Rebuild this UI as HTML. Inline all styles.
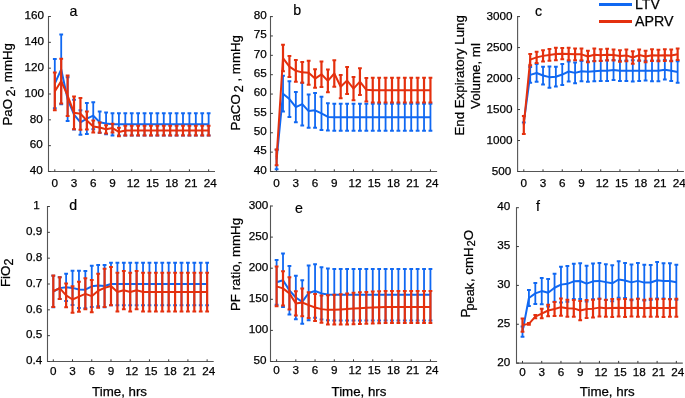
<!DOCTYPE html>
<html><head><meta charset="utf-8"><style>
html,body{margin:0;padding:0;background:#fff;}
svg{display:block;will-change:transform;}
text{font-family:"Liberation Sans", sans-serif;fill:#000;stroke:#000;stroke-width:0.25px;}
.t{font-size:11.7px;}
.T{font-size:13.3px;}
.L{font-size:14.2px;stroke-width:0.2px;}
.G{font-size:14.2px;}
</style></head><body>
<svg width="685" height="398" viewBox="0 0 685 398">
<path d="M48.5 16V171.5H215" fill="none" stroke="#555555" stroke-width="1.1"/>
<path d="M48.5 171.5h2.4M48.5 145.67h2.4M48.5 119.83h2.4M48.5 94h2.4M48.5 68.17h2.4M48.5 42.33h2.4M48.5 16.5h2.4M54.8 171.5v-2.2M74.03 171.5v-2.2M93.26 171.5v-2.2M112.49 171.5v-2.2M131.72 171.5v-2.2M150.95 171.5v-2.2M170.18 171.5v-2.2M189.41 171.5v-2.2M208.64 171.5v-2.2" stroke="#3a3a3a" stroke-width="1" fill="none"/>
<text x="42.7" y="174.2" text-anchor="end" class="t">40</text>
<text x="42.7" y="148.37" text-anchor="end" class="t">60</text>
<text x="42.7" y="122.53" text-anchor="end" class="t">80</text>
<text x="44" y="96.7" text-anchor="end" class="t">100</text>
<text x="44" y="70.87" text-anchor="end" class="t">120</text>
<text x="44" y="45.03" text-anchor="end" class="t">140</text>
<text x="44" y="19.2" text-anchor="end" class="t">160</text>
<text x="54.8" y="187.2" text-anchor="middle" class="t">0</text>
<text x="74.03" y="187.2" text-anchor="middle" class="t">3</text>
<text x="93.26" y="187.2" text-anchor="middle" class="t">6</text>
<text x="112.49" y="187.2" text-anchor="middle" class="t">9</text>
<text x="133.22" y="187.2" text-anchor="middle" class="t">12</text>
<text x="152.45" y="187.2" text-anchor="middle" class="t">15</text>
<text x="171.68" y="187.2" text-anchor="middle" class="t">18</text>
<text x="190.91" y="187.2" text-anchor="middle" class="t">21</text>
<text x="210.14" y="187.2" text-anchor="middle" class="t">24</text>
<text x="69.5" y="15.5" class="L">a</text>
<path d="M54.8 59.12V108.21M61.21 34.58V104.33M67.62 77.21V121.12M74.03 99.81V129.52M80.44 110.15V134.69M86.85 103.04V134.04M93.26 102.14V129.26M99.67 111.57V132.75M106.08 112.6V134.3M112.49 113.25V135.46M118.9 113.25V135.46M125.31 113.25V135.46M131.72 113.25V135.46M138.13 113.25V135.46M144.54 113.25V135.46M150.95 113.25V135.46M157.36 113.25V135.46M163.77 113.25V135.46M170.18 113.25V135.46M176.59 113.25V135.46M183 113.25V135.46M189.41 113.25V135.46M195.82 113.25V135.46M202.23 113.25V135.46M208.64 113.25V135.46" stroke="#1068f2" stroke-width="1.8" fill="none"/>
<path d="M52.9 58.12h3.8v2h-3.8zM52.9 107.21h3.8v2h-3.8zM59.31 33.58h3.8v2h-3.8zM59.31 103.33h3.8v2h-3.8zM65.72 76.21h3.8v2h-3.8zM65.72 120.12h3.8v2h-3.8zM72.13 98.81h3.8v2h-3.8zM72.13 128.52h3.8v2h-3.8zM78.54 109.15h3.8v2h-3.8zM78.54 133.69h3.8v2h-3.8zM84.95 102.04h3.8v2h-3.8zM84.95 133.04h3.8v2h-3.8zM91.36 101.14h3.8v2h-3.8zM91.36 128.26h3.8v2h-3.8zM97.77 110.57h3.8v2h-3.8zM97.77 131.75h3.8v2h-3.8zM104.18 111.6h3.8v2h-3.8zM104.18 133.3h3.8v2h-3.8zM110.59 112.25h3.8v2h-3.8zM110.59 134.46h3.8v2h-3.8zM117 112.25h3.8v2h-3.8zM117 134.46h3.8v2h-3.8zM123.41 112.25h3.8v2h-3.8zM123.41 134.46h3.8v2h-3.8zM129.82 112.25h3.8v2h-3.8zM129.82 134.46h3.8v2h-3.8zM136.23 112.25h3.8v2h-3.8zM136.23 134.46h3.8v2h-3.8zM142.64 112.25h3.8v2h-3.8zM142.64 134.46h3.8v2h-3.8zM149.05 112.25h3.8v2h-3.8zM149.05 134.46h3.8v2h-3.8zM155.46 112.25h3.8v2h-3.8zM155.46 134.46h3.8v2h-3.8zM161.87 112.25h3.8v2h-3.8zM161.87 134.46h3.8v2h-3.8zM168.28 112.25h3.8v2h-3.8zM168.28 134.46h3.8v2h-3.8zM174.69 112.25h3.8v2h-3.8zM174.69 134.46h3.8v2h-3.8zM181.1 112.25h3.8v2h-3.8zM181.1 134.46h3.8v2h-3.8zM187.51 112.25h3.8v2h-3.8zM187.51 134.46h3.8v2h-3.8zM193.92 112.25h3.8v2h-3.8zM193.92 134.46h3.8v2h-3.8zM200.33 112.25h3.8v2h-3.8zM200.33 134.46h3.8v2h-3.8zM206.74 112.25h3.8v2h-3.8zM206.74 134.46h3.8v2h-3.8z" fill="#1068f2"/>
<polyline points="54.8,83.67 61.21,69.46 67.62,99.17 74.03,114.67 80.44,122.42 86.85,118.54 93.26,115.7 99.67,122.16 106.08,123.45 112.49,124.35 118.9,124.35 125.31,124.35 131.72,124.35 138.13,124.35 144.54,124.35 150.95,124.35 157.36,124.35 163.77,124.35 170.18,124.35 176.59,124.35 183,124.35 189.41,124.35 195.82,124.35 202.23,124.35 208.64,124.35" fill="none" stroke="#1068f2" stroke-width="2" stroke-linejoin="round"/>
<path d="M54.8 72.56V110.27M61.21 58.74V103.43M67.62 75.4V115.96M74.03 96.45V129.26M80.44 97.88V129.65M86.85 111.44V129.52M93.26 120.61V132.49M99.67 122.42V132.75M106.08 125.13V133.4M112.49 123.71V132.49M118.9 127.71V136.24M125.31 125.65V135.46M131.72 125.65V135.46M138.13 125.65V135.46M144.54 125.65V135.46M150.95 125.65V135.46M157.36 125.65V135.46M163.77 125.65V135.46M170.18 125.65V135.46M176.59 125.65V135.46M183 125.65V135.46M189.41 125.65V135.46M195.82 125.65V135.46M202.23 125.65V135.46M208.64 125.65V135.46" stroke="#e4300e" stroke-width="2.2" fill="none"/>
<path d="M52.9 71.56h3.8v2h-3.8zM52.9 109.27h3.8v2h-3.8zM59.31 57.74h3.8v2h-3.8zM59.31 102.43h3.8v2h-3.8zM65.72 74.4h3.8v2h-3.8zM65.72 114.96h3.8v2h-3.8zM72.13 95.45h3.8v2h-3.8zM72.13 128.26h3.8v2h-3.8zM78.54 96.88h3.8v2h-3.8zM78.54 128.65h3.8v2h-3.8zM84.95 110.44h3.8v2h-3.8zM84.95 128.52h3.8v2h-3.8zM91.36 119.61h3.8v2h-3.8zM91.36 131.49h3.8v2h-3.8zM97.77 121.42h3.8v2h-3.8zM97.77 131.75h3.8v2h-3.8zM104.18 124.13h3.8v2h-3.8zM104.18 132.4h3.8v2h-3.8zM110.59 122.71h3.8v2h-3.8zM110.59 131.49h3.8v2h-3.8zM117 126.71h3.8v2h-3.8zM117 135.24h3.8v2h-3.8zM123.41 124.65h3.8v2h-3.8zM123.41 134.46h3.8v2h-3.8zM129.82 124.65h3.8v2h-3.8zM129.82 134.46h3.8v2h-3.8zM136.23 124.65h3.8v2h-3.8zM136.23 134.46h3.8v2h-3.8zM142.64 124.65h3.8v2h-3.8zM142.64 134.46h3.8v2h-3.8zM149.05 124.65h3.8v2h-3.8zM149.05 134.46h3.8v2h-3.8zM155.46 124.65h3.8v2h-3.8zM155.46 134.46h3.8v2h-3.8zM161.87 124.65h3.8v2h-3.8zM161.87 134.46h3.8v2h-3.8zM168.28 124.65h3.8v2h-3.8zM168.28 134.46h3.8v2h-3.8zM174.69 124.65h3.8v2h-3.8zM174.69 134.46h3.8v2h-3.8zM181.1 124.65h3.8v2h-3.8zM181.1 134.46h3.8v2h-3.8zM187.51 124.65h3.8v2h-3.8zM187.51 134.46h3.8v2h-3.8zM193.92 124.65h3.8v2h-3.8zM193.92 134.46h3.8v2h-3.8zM200.33 124.65h3.8v2h-3.8zM200.33 134.46h3.8v2h-3.8zM206.74 124.65h3.8v2h-3.8zM206.74 134.46h3.8v2h-3.8z" fill="#e4300e"/>
<polyline points="54.8,91.42 61.21,81.08 67.62,95.68 74.03,112.86 80.44,113.76 86.85,120.48 93.26,126.55 99.67,127.58 106.08,129.26 112.49,128.1 118.9,131.98 125.31,130.55 131.72,130.55 138.13,130.55 144.54,130.55 150.95,130.55 157.36,130.55 163.77,130.55 170.18,130.55 176.59,130.55 183,130.55 189.41,130.55 195.82,130.55 202.23,130.55 208.64,130.55" fill="none" stroke="#e4300e" stroke-width="2" stroke-linejoin="round"/>
<path d="M270.5 16.1V171.5H437.1" fill="none" stroke="#555555" stroke-width="1.1"/>
<path d="M270.5 171.5h2.4M270.5 152.14h2.4M270.5 132.78h2.4M270.5 113.41h2.4M270.5 94.05h2.4M270.5 74.69h2.4M270.5 55.33h2.4M270.5 35.96h2.4M270.5 16.6h2.4M276.6 171.5v-2.2M295.83 171.5v-2.2M315.06 171.5v-2.2M334.29 171.5v-2.2M353.52 171.5v-2.2M372.75 171.5v-2.2M391.98 171.5v-2.2M411.21 171.5v-2.2M430.44 171.5v-2.2" stroke="#3a3a3a" stroke-width="1" fill="none"/>
<text x="266.8" y="173.8" text-anchor="end" class="t">40</text>
<text x="266.8" y="154.44" text-anchor="end" class="t">45</text>
<text x="266.8" y="135.08" text-anchor="end" class="t">50</text>
<text x="266.8" y="115.71" text-anchor="end" class="t">55</text>
<text x="266.8" y="96.35" text-anchor="end" class="t">60</text>
<text x="266.8" y="76.99" text-anchor="end" class="t">65</text>
<text x="266.8" y="57.62" text-anchor="end" class="t">70</text>
<text x="266.8" y="38.26" text-anchor="end" class="t">75</text>
<text x="266.8" y="18.9" text-anchor="end" class="t">80</text>
<text x="276.6" y="186.6" text-anchor="middle" class="t">0</text>
<text x="295.83" y="186.6" text-anchor="middle" class="t">3</text>
<text x="315.06" y="186.6" text-anchor="middle" class="t">6</text>
<text x="334.29" y="186.6" text-anchor="middle" class="t">9</text>
<text x="355.02" y="186.6" text-anchor="middle" class="t">12</text>
<text x="374.25" y="186.6" text-anchor="middle" class="t">15</text>
<text x="393.48" y="186.6" text-anchor="middle" class="t">18</text>
<text x="412.71" y="186.6" text-anchor="middle" class="t">21</text>
<text x="431.94" y="186.6" text-anchor="middle" class="t">24</text>
<text x="293.3" y="14.8" class="L">b</text>
<path d="M276.6 149.81V169.18M283.01 75.85V111.48M289.42 81.27V116.9M295.83 92.11V122.32M302.24 82.82V125.42M308.65 94.44V127.74M315.06 92.89V127.74M321.47 96.76V130.06M327.88 103.34V130.45M334.29 103.73V130.84M340.7 103.73V130.84M347.11 103.73V130.84M353.52 103.73V130.84M359.93 103.73V130.84M366.34 103.73V130.84M372.75 103.73V130.84M379.16 103.73V130.84M385.57 103.73V130.84M391.98 103.73V130.84M398.39 103.73V130.84M404.8 103.73V130.84M411.21 103.73V130.84M417.62 103.73V130.84M424.03 103.73V130.84M430.44 103.73V130.84" stroke="#1068f2" stroke-width="1.8" fill="none"/>
<path d="M274.7 148.81h3.8v2h-3.8zM274.7 168.18h3.8v2h-3.8zM281.11 74.85h3.8v2h-3.8zM281.11 110.48h3.8v2h-3.8zM287.52 80.27h3.8v2h-3.8zM287.52 115.9h3.8v2h-3.8zM293.93 91.11h3.8v2h-3.8zM293.93 121.32h3.8v2h-3.8zM300.34 81.82h3.8v2h-3.8zM300.34 124.42h3.8v2h-3.8zM306.75 93.44h3.8v2h-3.8zM306.75 126.74h3.8v2h-3.8zM313.16 91.89h3.8v2h-3.8zM313.16 126.74h3.8v2h-3.8zM319.57 95.76h3.8v2h-3.8zM319.57 129.06h3.8v2h-3.8zM325.98 102.34h3.8v2h-3.8zM325.98 129.45h3.8v2h-3.8zM332.39 102.73h3.8v2h-3.8zM332.39 129.84h3.8v2h-3.8zM338.8 102.73h3.8v2h-3.8zM338.8 129.84h3.8v2h-3.8zM345.21 102.73h3.8v2h-3.8zM345.21 129.84h3.8v2h-3.8zM351.62 102.73h3.8v2h-3.8zM351.62 129.84h3.8v2h-3.8zM358.03 102.73h3.8v2h-3.8zM358.03 129.84h3.8v2h-3.8zM364.44 102.73h3.8v2h-3.8zM364.44 129.84h3.8v2h-3.8zM370.85 102.73h3.8v2h-3.8zM370.85 129.84h3.8v2h-3.8zM377.26 102.73h3.8v2h-3.8zM377.26 129.84h3.8v2h-3.8zM383.67 102.73h3.8v2h-3.8zM383.67 129.84h3.8v2h-3.8zM390.08 102.73h3.8v2h-3.8zM390.08 129.84h3.8v2h-3.8zM396.49 102.73h3.8v2h-3.8zM396.49 129.84h3.8v2h-3.8zM402.9 102.73h3.8v2h-3.8zM402.9 129.84h3.8v2h-3.8zM409.31 102.73h3.8v2h-3.8zM409.31 129.84h3.8v2h-3.8zM415.72 102.73h3.8v2h-3.8zM415.72 129.84h3.8v2h-3.8zM422.13 102.73h3.8v2h-3.8zM422.13 129.84h3.8v2h-3.8zM428.54 102.73h3.8v2h-3.8zM428.54 129.84h3.8v2h-3.8z" fill="#1068f2"/>
<polyline points="276.6,159.5 283.01,93.66 289.42,99.08 295.83,107.22 302.24,104.12 308.65,111.09 315.06,110.31 321.47,113.41 327.88,116.9 334.29,117.28 340.7,117.28 347.11,117.28 353.52,117.28 359.93,117.28 366.34,117.28 372.75,117.28 379.16,117.28 385.57,117.28 391.98,117.28 398.39,117.28 404.8,117.28 411.21,117.28 417.62,117.28 424.03,117.28 430.44,117.28" fill="none" stroke="#1068f2" stroke-width="2" stroke-linejoin="round"/>
<path d="M276.6 149.43V165.3M283.01 44.87V71.2M289.42 56.1V77.01M295.83 59.97V81.66M302.24 61.91V82.82M308.65 60.75V84.76M315.06 69.27V87.85M321.47 61.52V87.08M327.88 69.46V92.31M334.29 60.36V86.69M340.7 75.07V98.31M347.11 66.94V94.05M353.52 77.01V100.25M359.93 68.3V95.02M366.34 77.98V101.6M372.75 77.79V102.57M379.16 77.79V102.57M385.57 77.79V102.57M391.98 77.79V102.57M398.39 77.79V102.57M404.8 77.79V102.57M411.21 77.79V102.57M417.62 77.79V102.57M424.03 77.79V102.57M430.44 77.79V102.57" stroke="#e4300e" stroke-width="2.2" fill="none"/>
<path d="M274.7 148.43h3.8v2h-3.8zM274.7 164.3h3.8v2h-3.8zM281.11 43.87h3.8v2h-3.8zM281.11 70.2h3.8v2h-3.8zM287.52 55.1h3.8v2h-3.8zM287.52 76.01h3.8v2h-3.8zM293.93 58.97h3.8v2h-3.8zM293.93 80.66h3.8v2h-3.8zM300.34 60.91h3.8v2h-3.8zM300.34 81.82h3.8v2h-3.8zM306.75 59.75h3.8v2h-3.8zM306.75 83.76h3.8v2h-3.8zM313.16 68.27h3.8v2h-3.8zM313.16 86.85h3.8v2h-3.8zM319.57 60.52h3.8v2h-3.8zM319.57 86.08h3.8v2h-3.8zM325.98 68.46h3.8v2h-3.8zM325.98 91.31h3.8v2h-3.8zM332.39 59.36h3.8v2h-3.8zM332.39 85.69h3.8v2h-3.8zM338.8 74.07h3.8v2h-3.8zM338.8 97.31h3.8v2h-3.8zM345.21 65.94h3.8v2h-3.8zM345.21 93.05h3.8v2h-3.8zM351.62 76.01h3.8v2h-3.8zM351.62 99.25h3.8v2h-3.8zM358.03 67.3h3.8v2h-3.8zM358.03 94.02h3.8v2h-3.8zM364.44 76.98h3.8v2h-3.8zM364.44 100.6h3.8v2h-3.8zM370.85 76.79h3.8v2h-3.8zM370.85 101.57h3.8v2h-3.8zM377.26 76.79h3.8v2h-3.8zM377.26 101.57h3.8v2h-3.8zM383.67 76.79h3.8v2h-3.8zM383.67 101.57h3.8v2h-3.8zM390.08 76.79h3.8v2h-3.8zM390.08 101.57h3.8v2h-3.8zM396.49 76.79h3.8v2h-3.8zM396.49 101.57h3.8v2h-3.8zM402.9 76.79h3.8v2h-3.8zM402.9 101.57h3.8v2h-3.8zM409.31 76.79h3.8v2h-3.8zM409.31 101.57h3.8v2h-3.8zM415.72 76.79h3.8v2h-3.8zM415.72 101.57h3.8v2h-3.8zM422.13 76.79h3.8v2h-3.8zM422.13 101.57h3.8v2h-3.8zM428.54 76.79h3.8v2h-3.8zM428.54 101.57h3.8v2h-3.8z" fill="#e4300e"/>
<polyline points="276.6,157.37 283.01,58.04 289.42,66.56 295.83,70.81 302.24,72.36 308.65,72.75 315.06,78.56 321.47,74.3 327.88,80.88 334.29,73.53 340.7,86.69 347.11,80.5 353.52,88.63 359.93,81.66 366.34,89.79 372.75,90.18 379.16,90.18 385.57,90.18 391.98,90.18 398.39,90.18 404.8,90.18 411.21,90.18 417.62,90.18 424.03,90.18 430.44,90.18" fill="none" stroke="#e4300e" stroke-width="2" stroke-linejoin="round"/>
<path d="M517.6 16.1V171.5H683.9" fill="none" stroke="#555555" stroke-width="1.1"/>
<path d="M517.6 171.5h2.4M517.6 140.52h2.4M517.6 109.54h2.4M517.6 78.56h2.4M517.6 47.58h2.4M517.6 16.6h2.4M523.8 171.5v-2.2M543.03 171.5v-2.2M562.26 171.5v-2.2M581.49 171.5v-2.2M600.72 171.5v-2.2M619.95 171.5v-2.2M639.18 171.5v-2.2M658.41 171.5v-2.2M677.64 171.5v-2.2" stroke="#3a3a3a" stroke-width="1" fill="none"/>
<text x="511.2" y="174.5" text-anchor="end" class="t">500</text>
<text x="512.6" y="143.52" text-anchor="end" class="t">1000</text>
<text x="512.6" y="112.54" text-anchor="end" class="t">1500</text>
<text x="512.6" y="81.56" text-anchor="end" class="t">2000</text>
<text x="512.6" y="50.58" text-anchor="end" class="t">2500</text>
<text x="512.6" y="19.6" text-anchor="end" class="t">3000</text>
<text x="523.8" y="186.6" text-anchor="middle" class="t">0</text>
<text x="543.03" y="186.6" text-anchor="middle" class="t">3</text>
<text x="562.26" y="186.6" text-anchor="middle" class="t">6</text>
<text x="581.49" y="186.6" text-anchor="middle" class="t">9</text>
<text x="602.22" y="186.6" text-anchor="middle" class="t">12</text>
<text x="621.45" y="186.6" text-anchor="middle" class="t">15</text>
<text x="640.68" y="186.6" text-anchor="middle" class="t">18</text>
<text x="659.91" y="186.6" text-anchor="middle" class="t">21</text>
<text x="679.14" y="186.6" text-anchor="middle" class="t">24</text>
<text x="535" y="15.6" class="L">c</text>
<path d="M523.8 122.43V122.43M530.21 66.91V82.77M536.62 64.12V81.84M543.03 66.66V84.38M549.44 66.6V87.67M555.85 66.79V86.61M562.26 64V85.07M568.67 61.58V81.41M575.08 62.51V83.21M581.49 61.09V81.29M587.9 61.58V81.78M594.31 61.09V81.29M600.72 60.72V80.91M607.13 60.34V80.91M613.54 59.91V80.11M619.95 60.72V80.91M626.36 60.53V81.1M632.77 60.22V81.41M639.18 60.53V81.1M645.59 60.72V80.54M652 60.47V81.16M658.41 60.47V81.16M664.82 60.1V79.55M671.23 60.72V80.91M677.64 61.34V82.65" stroke="#1068f2" stroke-width="1.8" fill="none"/>
<path d="M521.9 121.43h3.8v2h-3.8zM521.9 121.43h3.8v2h-3.8zM528.31 65.91h3.8v2h-3.8zM528.31 81.77h3.8v2h-3.8zM534.72 63.12h3.8v2h-3.8zM534.72 80.84h3.8v2h-3.8zM541.13 65.66h3.8v2h-3.8zM541.13 83.38h3.8v2h-3.8zM547.54 65.6h3.8v2h-3.8zM547.54 86.67h3.8v2h-3.8zM553.95 65.79h3.8v2h-3.8zM553.95 85.61h3.8v2h-3.8zM560.36 63h3.8v2h-3.8zM560.36 84.07h3.8v2h-3.8zM566.77 60.58h3.8v2h-3.8zM566.77 80.41h3.8v2h-3.8zM573.18 61.51h3.8v2h-3.8zM573.18 82.21h3.8v2h-3.8zM579.59 60.09h3.8v2h-3.8zM579.59 80.29h3.8v2h-3.8zM586 60.58h3.8v2h-3.8zM586 80.78h3.8v2h-3.8zM592.41 60.09h3.8v2h-3.8zM592.41 80.29h3.8v2h-3.8zM598.82 59.72h3.8v2h-3.8zM598.82 79.91h3.8v2h-3.8zM605.23 59.34h3.8v2h-3.8zM605.23 79.91h3.8v2h-3.8zM611.64 58.91h3.8v2h-3.8zM611.64 79.11h3.8v2h-3.8zM618.05 59.72h3.8v2h-3.8zM618.05 79.91h3.8v2h-3.8zM624.46 59.53h3.8v2h-3.8zM624.46 80.1h3.8v2h-3.8zM630.87 59.22h3.8v2h-3.8zM630.87 80.41h3.8v2h-3.8zM637.28 59.53h3.8v2h-3.8zM637.28 80.1h3.8v2h-3.8zM643.69 59.72h3.8v2h-3.8zM643.69 79.54h3.8v2h-3.8zM650.1 59.47h3.8v2h-3.8zM650.1 80.16h3.8v2h-3.8zM656.51 59.47h3.8v2h-3.8zM656.51 80.16h3.8v2h-3.8zM662.92 59.1h3.8v2h-3.8zM662.92 78.55h3.8v2h-3.8zM669.33 59.72h3.8v2h-3.8zM669.33 79.91h3.8v2h-3.8zM675.74 60.34h3.8v2h-3.8zM675.74 81.65h3.8v2h-3.8z" fill="#1068f2"/>
<polyline points="523.8,122.43 530.21,74.84 536.62,72.98 543.03,75.52 549.44,77.13 555.85,76.7 562.26,74.53 568.67,71.5 575.08,72.86 581.49,71.19 587.9,71.68 594.31,71.19 600.72,70.81 607.13,70.63 613.54,70.01 619.95,70.81 626.36,70.81 632.77,70.81 639.18,70.81 645.59,70.63 652,70.81 658.41,70.81 664.82,69.82 671.23,70.81 677.64,71.99" fill="none" stroke="#1068f2" stroke-width="2" stroke-linejoin="round"/>
<path d="M523.8 116.11V133.95M530.21 53.96V65.36M536.62 51.79V62.95M543.03 50.31V61.46M549.44 49.01V60.78M555.85 47.77V60.16M562.26 48.08V59.23M568.67 47.77V60.16M575.08 48.45V60.22M581.49 48.45V60.22M587.9 50.86V62.26M594.31 48.51V61.15M600.72 49.31V61.09M607.13 48.82V60.59M613.54 49.56V60.47M619.95 50.24V61.64M626.36 49.5V61.27M632.77 51.17V63.81M639.18 49.44V60.72M645.59 50.86V62.26M652 49.31V61.09M658.41 49.87V61.15M664.82 49.31V61.09M671.23 49.5V61.27M677.64 48.57V59.97" stroke="#e4300e" stroke-width="2.2" fill="none"/>
<path d="M521.9 115.11h3.8v2h-3.8zM521.9 132.95h3.8v2h-3.8zM528.31 52.96h3.8v2h-3.8zM528.31 64.36h3.8v2h-3.8zM534.72 50.79h3.8v2h-3.8zM534.72 61.95h3.8v2h-3.8zM541.13 49.31h3.8v2h-3.8zM541.13 60.46h3.8v2h-3.8zM547.54 48.01h3.8v2h-3.8zM547.54 59.78h3.8v2h-3.8zM553.95 46.77h3.8v2h-3.8zM553.95 59.16h3.8v2h-3.8zM560.36 47.08h3.8v2h-3.8zM560.36 58.23h3.8v2h-3.8zM566.77 46.77h3.8v2h-3.8zM566.77 59.16h3.8v2h-3.8zM573.18 47.45h3.8v2h-3.8zM573.18 59.22h3.8v2h-3.8zM579.59 47.45h3.8v2h-3.8zM579.59 59.22h3.8v2h-3.8zM586 49.86h3.8v2h-3.8zM586 61.26h3.8v2h-3.8zM592.41 47.51h3.8v2h-3.8zM592.41 60.15h3.8v2h-3.8zM598.82 48.31h3.8v2h-3.8zM598.82 60.09h3.8v2h-3.8zM605.23 47.82h3.8v2h-3.8zM605.23 59.59h3.8v2h-3.8zM611.64 48.56h3.8v2h-3.8zM611.64 59.47h3.8v2h-3.8zM618.05 49.24h3.8v2h-3.8zM618.05 60.64h3.8v2h-3.8zM624.46 48.5h3.8v2h-3.8zM624.46 60.27h3.8v2h-3.8zM630.87 50.17h3.8v2h-3.8zM630.87 62.81h3.8v2h-3.8zM637.28 48.44h3.8v2h-3.8zM637.28 59.72h3.8v2h-3.8zM643.69 49.86h3.8v2h-3.8zM643.69 61.26h3.8v2h-3.8zM650.1 48.31h3.8v2h-3.8zM650.1 60.09h3.8v2h-3.8zM656.51 48.87h3.8v2h-3.8zM656.51 60.15h3.8v2h-3.8zM662.92 48.31h3.8v2h-3.8zM662.92 60.09h3.8v2h-3.8zM669.33 48.5h3.8v2h-3.8zM669.33 60.27h3.8v2h-3.8zM675.74 47.57h3.8v2h-3.8zM675.74 58.97h3.8v2h-3.8z" fill="#e4300e"/>
<polyline points="523.8,125.03 530.21,59.66 536.62,57.37 543.03,55.88 549.44,54.89 555.85,53.96 562.26,53.65 568.67,53.96 575.08,54.33 581.49,54.33 587.9,56.56 594.31,54.83 600.72,55.2 607.13,54.71 613.54,55.02 619.95,55.94 626.36,55.39 632.77,57.49 639.18,55.08 645.59,56.56 652,55.2 658.41,55.51 664.82,55.2 671.23,55.39 677.64,54.27" fill="none" stroke="#e4300e" stroke-width="2" stroke-linejoin="round"/>
<path d="M47.5 206V361.5H213.7" fill="none" stroke="#555555" stroke-width="1.1"/>
<path d="M47.5 361.5h2.4M47.5 335.67h2.4M47.5 309.83h2.4M47.5 284h2.4M47.5 258.17h2.4M47.5 232.33h2.4M47.5 206.5h2.4M53.3 361.5v-2.2M72.53 361.5v-2.2M91.76 361.5v-2.2M110.99 361.5v-2.2M130.22 361.5v-2.2M149.45 361.5v-2.2M168.68 361.5v-2.2M187.91 361.5v-2.2M207.14 361.5v-2.2" stroke="#3a3a3a" stroke-width="1" fill="none"/>
<text x="42.2" y="364.3" text-anchor="end" class="t">0.4</text>
<text x="42.2" y="338.47" text-anchor="end" class="t">0.5</text>
<text x="42.2" y="312.63" text-anchor="end" class="t">0.6</text>
<text x="42.2" y="286.8" text-anchor="end" class="t">0.7</text>
<text x="42.2" y="260.97" text-anchor="end" class="t">0.8</text>
<text x="42.2" y="235.13" text-anchor="end" class="t">0.9</text>
<text x="39.7" y="209.3" text-anchor="end" class="t">1</text>
<text x="53.3" y="374.5" text-anchor="middle" class="t">0</text>
<text x="72.53" y="374.5" text-anchor="middle" class="t">3</text>
<text x="91.76" y="374.5" text-anchor="middle" class="t">6</text>
<text x="110.99" y="374.5" text-anchor="middle" class="t">9</text>
<text x="131.72" y="374.5" text-anchor="middle" class="t">12</text>
<text x="150.95" y="374.5" text-anchor="middle" class="t">15</text>
<text x="170.18" y="374.5" text-anchor="middle" class="t">18</text>
<text x="189.41" y="374.5" text-anchor="middle" class="t">21</text>
<text x="208.64" y="374.5" text-anchor="middle" class="t">24</text>
<text x="69.2" y="209.8" class="L">d</text>
<path d="M53.3 275.73V307.25M59.71 277.28V298.98M66.12 273.67V301.05M72.53 270.82V304.93M78.94 270.82V308.02M85.35 271.08V308.28M91.76 265.66V306.99M98.17 264.88V306.22M104.58 264.88V307.25M110.99 262.82V305.18M117.4 262.82V305.18M123.81 262.82V305.18M130.22 262.82V305.18M136.63 262.82V305.18M143.04 262.82V305.18M149.45 262.82V305.18M155.86 262.82V305.18M162.27 262.82V305.18M168.68 262.82V305.18M175.09 262.82V305.18M181.5 262.82V305.18M187.91 262.82V305.18M194.32 262.82V305.18M200.73 262.82V305.18M207.14 262.82V305.18" stroke="#1068f2" stroke-width="1.8" fill="none"/>
<path d="M51.4 274.73h3.8v2h-3.8zM51.4 306.25h3.8v2h-3.8zM57.81 276.28h3.8v2h-3.8zM57.81 297.98h3.8v2h-3.8zM64.22 272.67h3.8v2h-3.8zM64.22 300.05h3.8v2h-3.8zM70.63 269.82h3.8v2h-3.8zM70.63 303.93h3.8v2h-3.8zM77.04 269.82h3.8v2h-3.8zM77.04 307.02h3.8v2h-3.8zM83.45 270.08h3.8v2h-3.8zM83.45 307.28h3.8v2h-3.8zM89.86 264.66h3.8v2h-3.8zM89.86 305.99h3.8v2h-3.8zM96.27 263.88h3.8v2h-3.8zM96.27 305.22h3.8v2h-3.8zM102.68 263.88h3.8v2h-3.8zM102.68 306.25h3.8v2h-3.8zM109.09 261.82h3.8v2h-3.8zM109.09 304.18h3.8v2h-3.8zM115.5 261.82h3.8v2h-3.8zM115.5 304.18h3.8v2h-3.8zM121.91 261.82h3.8v2h-3.8zM121.91 304.18h3.8v2h-3.8zM128.32 261.82h3.8v2h-3.8zM128.32 304.18h3.8v2h-3.8zM134.73 261.82h3.8v2h-3.8zM134.73 304.18h3.8v2h-3.8zM141.14 261.82h3.8v2h-3.8zM141.14 304.18h3.8v2h-3.8zM147.55 261.82h3.8v2h-3.8zM147.55 304.18h3.8v2h-3.8zM153.96 261.82h3.8v2h-3.8zM153.96 304.18h3.8v2h-3.8zM160.37 261.82h3.8v2h-3.8zM160.37 304.18h3.8v2h-3.8zM166.78 261.82h3.8v2h-3.8zM166.78 304.18h3.8v2h-3.8zM173.19 261.82h3.8v2h-3.8zM173.19 304.18h3.8v2h-3.8zM179.6 261.82h3.8v2h-3.8zM179.6 304.18h3.8v2h-3.8zM186.01 261.82h3.8v2h-3.8zM186.01 304.18h3.8v2h-3.8zM192.42 261.82h3.8v2h-3.8zM192.42 304.18h3.8v2h-3.8zM198.83 261.82h3.8v2h-3.8zM198.83 304.18h3.8v2h-3.8zM205.24 261.82h3.8v2h-3.8zM205.24 304.18h3.8v2h-3.8z" fill="#1068f2"/>
<polyline points="53.3,291.49 59.71,288.13 66.12,287.36 72.53,287.88 78.94,289.42 85.35,289.68 91.76,286.33 98.17,285.55 104.58,286.07 110.99,284 117.4,284 123.81,284 130.22,284 136.63,284 143.04,284 149.45,284 155.86,284 162.27,284 168.68,284 175.09,284 181.5,284 187.91,284 194.32,284 200.73,284 207.14,284" fill="none" stroke="#1068f2" stroke-width="2" stroke-linejoin="round"/>
<path d="M53.3 275.47V306.99M59.71 277.28V298.98M66.12 283.48V307.25M72.53 286.32V312.68M78.94 281.67V311.64M85.35 278.32V309.32M91.76 280.12V312.16M98.17 273.67V307.77M104.58 268.76V306.99M110.99 266.95V305.18M117.4 272.63V311.38M123.81 271.08V309.32M130.22 272.63V311.38M136.63 271.08V309.32M143.04 272.63V311.38M149.45 272.63V311.38M155.86 272.63V311.38M162.27 272.63V311.38M168.68 272.63V311.38M175.09 272.63V311.38M181.5 272.63V311.38M187.91 272.63V311.38M194.32 272.63V311.38M200.73 272.63V311.38M207.14 272.63V311.38" stroke="#e4300e" stroke-width="2.2" fill="none"/>
<path d="M51.4 274.47h3.8v2h-3.8zM51.4 305.99h3.8v2h-3.8zM57.81 276.28h3.8v2h-3.8zM57.81 297.98h3.8v2h-3.8zM64.22 282.48h3.8v2h-3.8zM64.22 306.25h3.8v2h-3.8zM70.63 285.32h3.8v2h-3.8zM70.63 311.68h3.8v2h-3.8zM77.04 280.67h3.8v2h-3.8zM77.04 310.64h3.8v2h-3.8zM83.45 277.32h3.8v2h-3.8zM83.45 308.32h3.8v2h-3.8zM89.86 279.12h3.8v2h-3.8zM89.86 311.16h3.8v2h-3.8zM96.27 272.67h3.8v2h-3.8zM96.27 306.77h3.8v2h-3.8zM102.68 267.76h3.8v2h-3.8zM102.68 305.99h3.8v2h-3.8zM109.09 265.95h3.8v2h-3.8zM109.09 304.18h3.8v2h-3.8zM115.5 271.63h3.8v2h-3.8zM115.5 310.38h3.8v2h-3.8zM121.91 270.08h3.8v2h-3.8zM121.91 308.32h3.8v2h-3.8zM128.32 271.63h3.8v2h-3.8zM128.32 310.38h3.8v2h-3.8zM134.73 270.08h3.8v2h-3.8zM134.73 308.32h3.8v2h-3.8zM141.14 271.63h3.8v2h-3.8zM141.14 310.38h3.8v2h-3.8zM147.55 271.63h3.8v2h-3.8zM147.55 310.38h3.8v2h-3.8zM153.96 271.63h3.8v2h-3.8zM153.96 310.38h3.8v2h-3.8zM160.37 271.63h3.8v2h-3.8zM160.37 310.38h3.8v2h-3.8zM166.78 271.63h3.8v2h-3.8zM166.78 310.38h3.8v2h-3.8zM173.19 271.63h3.8v2h-3.8zM173.19 310.38h3.8v2h-3.8zM179.6 271.63h3.8v2h-3.8zM179.6 310.38h3.8v2h-3.8zM186.01 271.63h3.8v2h-3.8zM186.01 310.38h3.8v2h-3.8zM192.42 271.63h3.8v2h-3.8zM192.42 310.38h3.8v2h-3.8zM198.83 271.63h3.8v2h-3.8zM198.83 310.38h3.8v2h-3.8zM205.24 271.63h3.8v2h-3.8zM205.24 310.38h3.8v2h-3.8z" fill="#e4300e"/>
<polyline points="53.3,291.23 59.71,288.13 66.12,295.37 72.53,299.5 78.94,296.66 85.35,293.82 91.76,296.14 98.17,290.72 104.58,287.88 110.99,286.07 117.4,292.01 123.81,290.2 130.22,292.01 136.63,290.2 143.04,292.01 149.45,292.01 155.86,292.01 162.27,292.01 168.68,292.01 175.09,292.01 181.5,292.01 187.91,292.01 194.32,292.01 200.73,292.01 207.14,292.01" fill="none" stroke="#e4300e" stroke-width="2" stroke-linejoin="round"/>
<path d="M270.5 205.5V361.5H437.1" fill="none" stroke="#555555" stroke-width="1.1"/>
<path d="M270.5 361.5h2.4M270.5 330.4h2.4M270.5 299.3h2.4M270.5 268.2h2.4M270.5 237.1h2.4M270.5 206h2.4M276.6 361.5v-2.2M295.83 361.5v-2.2M315.06 361.5v-2.2M334.29 361.5v-2.2M353.52 361.5v-2.2M372.75 361.5v-2.2M391.98 361.5v-2.2M411.21 361.5v-2.2M430.44 361.5v-2.2" stroke="#3a3a3a" stroke-width="1" fill="none"/>
<text x="266.5" y="364.2" text-anchor="end" class="t">50</text>
<text x="268.2" y="333.1" text-anchor="end" class="t">100</text>
<text x="268.2" y="302" text-anchor="end" class="t">150</text>
<text x="268.2" y="270.9" text-anchor="end" class="t">200</text>
<text x="268.2" y="239.8" text-anchor="end" class="t">250</text>
<text x="268.2" y="208.7" text-anchor="end" class="t">300</text>
<text x="276.6" y="374" text-anchor="middle" class="t">0</text>
<text x="295.83" y="374" text-anchor="middle" class="t">3</text>
<text x="315.06" y="374" text-anchor="middle" class="t">6</text>
<text x="334.29" y="374" text-anchor="middle" class="t">9</text>
<text x="355.02" y="374" text-anchor="middle" class="t">12</text>
<text x="374.25" y="374" text-anchor="middle" class="t">15</text>
<text x="393.48" y="374" text-anchor="middle" class="t">18</text>
<text x="412.71" y="374" text-anchor="middle" class="t">21</text>
<text x="431.94" y="374" text-anchor="middle" class="t">24</text>
<text x="295" y="212.5" class="L">e</text>
<path d="M276.6 259.93V304.71M283.01 253.58V307.07M289.42 266.09V314.6M295.83 275.73V319.27M302.24 280.14V323.68M308.65 265.59V320.32M315.06 264.22V317.71M321.47 267.27V319.51M327.88 268.57V320.2M334.29 269.07V320.45M340.7 269.07V320.45M347.11 269.07V320.45M353.52 269.07V320.45M359.93 269.07V320.45M366.34 269.07V320.45M372.75 269.07V320.45M379.16 269.07V320.45M385.57 269.07V320.45M391.98 269.07V320.45M398.39 269.07V320.45M404.8 269.07V320.45M411.21 269.07V320.45M417.62 269.07V320.45M424.03 269.07V320.45M430.44 269.07V320.45" stroke="#1068f2" stroke-width="1.8" fill="none"/>
<path d="M274.7 258.93h3.8v2h-3.8zM274.7 303.71h3.8v2h-3.8zM281.11 252.58h3.8v2h-3.8zM281.11 306.07h3.8v2h-3.8zM287.52 265.09h3.8v2h-3.8zM287.52 313.6h3.8v2h-3.8zM293.93 274.73h3.8v2h-3.8zM293.93 318.27h3.8v2h-3.8zM300.34 279.14h3.8v2h-3.8zM300.34 322.68h3.8v2h-3.8zM306.75 264.59h3.8v2h-3.8zM306.75 319.32h3.8v2h-3.8zM313.16 263.22h3.8v2h-3.8zM313.16 316.71h3.8v2h-3.8zM319.57 266.27h3.8v2h-3.8zM319.57 318.51h3.8v2h-3.8zM325.98 267.57h3.8v2h-3.8zM325.98 319.2h3.8v2h-3.8zM332.39 268.07h3.8v2h-3.8zM332.39 319.45h3.8v2h-3.8zM338.8 268.07h3.8v2h-3.8zM338.8 319.45h3.8v2h-3.8zM345.21 268.07h3.8v2h-3.8zM345.21 319.45h3.8v2h-3.8zM351.62 268.07h3.8v2h-3.8zM351.62 319.45h3.8v2h-3.8zM358.03 268.07h3.8v2h-3.8zM358.03 319.45h3.8v2h-3.8zM364.44 268.07h3.8v2h-3.8zM364.44 319.45h3.8v2h-3.8zM370.85 268.07h3.8v2h-3.8zM370.85 319.45h3.8v2h-3.8zM377.26 268.07h3.8v2h-3.8zM377.26 319.45h3.8v2h-3.8zM383.67 268.07h3.8v2h-3.8zM383.67 319.45h3.8v2h-3.8zM390.08 268.07h3.8v2h-3.8zM390.08 319.45h3.8v2h-3.8zM396.49 268.07h3.8v2h-3.8zM396.49 319.45h3.8v2h-3.8zM402.9 268.07h3.8v2h-3.8zM402.9 319.45h3.8v2h-3.8zM409.31 268.07h3.8v2h-3.8zM409.31 319.45h3.8v2h-3.8zM415.72 268.07h3.8v2h-3.8zM415.72 319.45h3.8v2h-3.8zM422.13 268.07h3.8v2h-3.8zM422.13 319.45h3.8v2h-3.8zM428.54 268.07h3.8v2h-3.8zM428.54 319.45h3.8v2h-3.8z" fill="#1068f2"/>
<polyline points="276.6,282.32 283.01,280.33 289.42,290.34 295.83,297.5 302.24,301.91 308.65,292.96 315.06,290.97 321.47,293.39 327.88,294.39 334.29,294.76 340.7,294.76 347.11,294.76 353.52,294.76 359.93,294.76 366.34,294.76 372.75,294.76 379.16,294.76 385.57,294.76 391.98,294.76 398.39,294.76 404.8,294.76 411.21,294.76 417.62,294.76 424.03,294.76 430.44,294.76" fill="none" stroke="#1068f2" stroke-width="2" stroke-linejoin="round"/>
<path d="M276.6 266.58V306.14M283.01 271.25V305.46M289.42 277.22V309.56M295.83 291.34V315.6M302.24 288.6V316.34M308.65 292.21V317.96M315.06 294.08V320.95M321.47 295.51V322.75M327.88 295.26V324.49M334.29 294.76V324.62M340.7 294.14V324.62M347.11 293.39V324.49M353.52 292.83V324.18M359.93 292.27V323.99M366.34 291.9V323.74M372.75 291.46V323.56M379.16 291.21V323.31M385.57 291.03V323.12M391.98 291.03V323.12M398.39 291.03V323.12M404.8 291.03V323.12M411.21 291.03V323.12M417.62 291.03V323.12M424.03 291.03V323.12M430.44 291.03V323.12" stroke="#e4300e" stroke-width="2.2" fill="none"/>
<path d="M274.7 265.58h3.8v2h-3.8zM274.7 305.14h3.8v2h-3.8zM281.11 270.25h3.8v2h-3.8zM281.11 304.46h3.8v2h-3.8zM287.52 276.22h3.8v2h-3.8zM287.52 308.56h3.8v2h-3.8zM293.93 290.34h3.8v2h-3.8zM293.93 314.6h3.8v2h-3.8zM300.34 287.6h3.8v2h-3.8zM300.34 315.34h3.8v2h-3.8zM306.75 291.21h3.8v2h-3.8zM306.75 316.96h3.8v2h-3.8zM313.16 293.08h3.8v2h-3.8zM313.16 319.95h3.8v2h-3.8zM319.57 294.51h3.8v2h-3.8zM319.57 321.75h3.8v2h-3.8zM325.98 294.26h3.8v2h-3.8zM325.98 323.49h3.8v2h-3.8zM332.39 293.76h3.8v2h-3.8zM332.39 323.62h3.8v2h-3.8zM338.8 293.14h3.8v2h-3.8zM338.8 323.62h3.8v2h-3.8zM345.21 292.39h3.8v2h-3.8zM345.21 323.49h3.8v2h-3.8zM351.62 291.83h3.8v2h-3.8zM351.62 323.18h3.8v2h-3.8zM358.03 291.27h3.8v2h-3.8zM358.03 322.99h3.8v2h-3.8zM364.44 290.9h3.8v2h-3.8zM364.44 322.74h3.8v2h-3.8zM370.85 290.46h3.8v2h-3.8zM370.85 322.56h3.8v2h-3.8zM377.26 290.21h3.8v2h-3.8zM377.26 322.31h3.8v2h-3.8zM383.67 290.03h3.8v2h-3.8zM383.67 322.12h3.8v2h-3.8zM390.08 290.03h3.8v2h-3.8zM390.08 322.12h3.8v2h-3.8zM396.49 290.03h3.8v2h-3.8zM396.49 322.12h3.8v2h-3.8zM402.9 290.03h3.8v2h-3.8zM402.9 322.12h3.8v2h-3.8zM409.31 290.03h3.8v2h-3.8zM409.31 322.12h3.8v2h-3.8zM415.72 290.03h3.8v2h-3.8zM415.72 322.12h3.8v2h-3.8zM422.13 290.03h3.8v2h-3.8zM422.13 322.12h3.8v2h-3.8zM428.54 290.03h3.8v2h-3.8zM428.54 322.12h3.8v2h-3.8z" fill="#e4300e"/>
<polyline points="276.6,286.36 283.01,288.35 289.42,293.39 295.83,303.47 302.24,302.47 308.65,305.08 315.06,307.51 321.47,309.13 327.88,309.87 334.29,309.69 340.7,309.38 347.11,308.94 353.52,308.51 359.93,308.13 366.34,307.82 372.75,307.51 379.16,307.26 385.57,307.07 391.98,307.07 398.39,307.07 404.8,307.07 411.21,307.07 417.62,307.07 424.03,307.07 430.44,307.07" fill="none" stroke="#e4300e" stroke-width="2" stroke-linejoin="round"/>
<path d="M516.5 207.2V363.1H682.8" fill="none" stroke="#555555" stroke-width="1.1"/>
<path d="M516.5 363.1h2.4M516.5 324.25h2.4M516.5 285.4h2.4M516.5 246.55h2.4M516.5 207.7h2.4M522.5 363.1v-2.2M541.73 363.1v-2.2M560.96 363.1v-2.2M580.19 363.1v-2.2M599.42 363.1v-2.2M618.65 363.1v-2.2M637.88 363.1v-2.2M657.11 363.1v-2.2M676.34 363.1v-2.2" stroke="#3a3a3a" stroke-width="1" fill="none"/>
<text x="510.3" y="365.7" text-anchor="end" class="t">20</text>
<text x="510.3" y="326.85" text-anchor="end" class="t">25</text>
<text x="510.3" y="288" text-anchor="end" class="t">30</text>
<text x="510.3" y="249.15" text-anchor="end" class="t">35</text>
<text x="510.3" y="210.3" text-anchor="end" class="t">40</text>
<text x="522.5" y="375.7" text-anchor="middle" class="t">0</text>
<text x="541.73" y="375.7" text-anchor="middle" class="t">3</text>
<text x="560.96" y="375.7" text-anchor="middle" class="t">6</text>
<text x="580.19" y="375.7" text-anchor="middle" class="t">9</text>
<text x="600.92" y="375.7" text-anchor="middle" class="t">12</text>
<text x="620.15" y="375.7" text-anchor="middle" class="t">15</text>
<text x="639.38" y="375.7" text-anchor="middle" class="t">18</text>
<text x="658.61" y="375.7" text-anchor="middle" class="t">21</text>
<text x="677.84" y="375.7" text-anchor="middle" class="t">24</text>
<text x="536" y="210.7" class="L">f</text>
<path d="M522.5 326.43V336.84M528.91 289.98V305.99M535.32 282.91V303.89M541.73 278.02V304.13M548.14 279.03V306.53M554.55 273.75V301.72M560.96 266.75V302.49M567.37 265.98V301.72M573.78 263.8V298.92M580.19 263.18V298.92M586.6 265.74V301.48M593.01 263.41V299.31M599.42 263.02V298.76M605.83 264.27V300.01M612.24 265.28V301.33M618.65 261.31V297.68M625.06 262.94V298.07M631.47 264.5V300.24M637.88 263.02V298.76M644.29 264.73V300.47M650.7 264.96V300.09M657.11 262.01V298.38M663.52 263.33V298.45M669.93 263.18V298.92M676.34 264.65V299.77" stroke="#1068f2" stroke-width="1.8" fill="none"/>
<path d="M520.6 325.43h3.8v2h-3.8zM520.6 335.84h3.8v2h-3.8zM527.01 288.98h3.8v2h-3.8zM527.01 304.99h3.8v2h-3.8zM533.42 281.91h3.8v2h-3.8zM533.42 302.89h3.8v2h-3.8zM539.83 277.02h3.8v2h-3.8zM539.83 303.13h3.8v2h-3.8zM546.24 278.03h3.8v2h-3.8zM546.24 305.53h3.8v2h-3.8zM552.65 272.75h3.8v2h-3.8zM552.65 300.72h3.8v2h-3.8zM559.06 265.75h3.8v2h-3.8zM559.06 301.49h3.8v2h-3.8zM565.47 264.98h3.8v2h-3.8zM565.47 300.72h3.8v2h-3.8zM571.88 262.8h3.8v2h-3.8zM571.88 297.92h3.8v2h-3.8zM578.29 262.18h3.8v2h-3.8zM578.29 297.92h3.8v2h-3.8zM584.7 264.74h3.8v2h-3.8zM584.7 300.48h3.8v2h-3.8zM591.11 262.41h3.8v2h-3.8zM591.11 298.31h3.8v2h-3.8zM597.52 262.02h3.8v2h-3.8zM597.52 297.76h3.8v2h-3.8zM603.93 263.27h3.8v2h-3.8zM603.93 299.01h3.8v2h-3.8zM610.34 264.28h3.8v2h-3.8zM610.34 300.33h3.8v2h-3.8zM616.75 260.31h3.8v2h-3.8zM616.75 296.68h3.8v2h-3.8zM623.16 261.94h3.8v2h-3.8zM623.16 297.07h3.8v2h-3.8zM629.57 263.5h3.8v2h-3.8zM629.57 299.24h3.8v2h-3.8zM635.98 262.02h3.8v2h-3.8zM635.98 297.76h3.8v2h-3.8zM642.39 263.73h3.8v2h-3.8zM642.39 299.47h3.8v2h-3.8zM648.8 263.96h3.8v2h-3.8zM648.8 299.09h3.8v2h-3.8zM655.21 261.01h3.8v2h-3.8zM655.21 297.38h3.8v2h-3.8zM661.62 262.33h3.8v2h-3.8zM661.62 297.45h3.8v2h-3.8zM668.03 262.18h3.8v2h-3.8zM668.03 297.92h3.8v2h-3.8zM674.44 263.65h3.8v2h-3.8zM674.44 298.77h3.8v2h-3.8z" fill="#1068f2"/>
<polyline points="522.5,331.63 528.91,297.99 535.32,293.4 541.73,291.07 548.14,292.78 554.55,287.73 560.96,284.62 567.37,283.85 573.78,281.36 580.19,281.05 586.6,283.61 593.01,281.36 599.42,280.89 605.83,282.14 612.24,283.3 618.65,279.49 625.06,280.5 631.47,282.37 637.88,280.89 644.29,282.6 650.7,282.53 657.11,280.19 663.52,280.89 669.93,281.05 676.34,282.21" fill="none" stroke="#1068f2" stroke-width="2" stroke-linejoin="round"/>
<path d="M522.5 318.42V331.63M528.91 323.08V324.64M535.32 315.08V318.19M541.73 308.87V318.19M548.14 304.67V316.32M554.55 301.95V315.94M560.96 298.61V315.7M567.37 299.77V316.87M573.78 300.09V316.71M580.19 300.94V320.21M586.6 300.01V317.88M593.01 299.85V317.41M599.42 298.69V316.56M605.83 299.7V316.79M612.24 299.08V316.95M618.65 299.15V316.4M625.06 299.08V316.95M631.47 299.46V316.56M637.88 298.84V316.71M644.29 299.7V316.79M650.7 298.84V316.71M657.11 299.15V316.71M663.52 299.08V316.95M669.93 299.15V316.71M676.34 298.84V316.71" stroke="#e4300e" stroke-width="2.2" fill="none"/>
<path d="M520.6 317.42h3.8v2h-3.8zM520.6 330.63h3.8v2h-3.8zM527.01 322.08h3.8v2h-3.8zM527.01 323.64h3.8v2h-3.8zM533.42 314.08h3.8v2h-3.8zM533.42 317.19h3.8v2h-3.8zM539.83 307.87h3.8v2h-3.8zM539.83 317.19h3.8v2h-3.8zM546.24 303.67h3.8v2h-3.8zM546.24 315.32h3.8v2h-3.8zM552.65 300.95h3.8v2h-3.8zM552.65 314.94h3.8v2h-3.8zM559.06 297.61h3.8v2h-3.8zM559.06 314.7h3.8v2h-3.8zM565.47 298.77h3.8v2h-3.8zM565.47 315.87h3.8v2h-3.8zM571.88 299.09h3.8v2h-3.8zM571.88 315.71h3.8v2h-3.8zM578.29 299.94h3.8v2h-3.8zM578.29 319.21h3.8v2h-3.8zM584.7 299.01h3.8v2h-3.8zM584.7 316.88h3.8v2h-3.8zM591.11 298.85h3.8v2h-3.8zM591.11 316.41h3.8v2h-3.8zM597.52 297.69h3.8v2h-3.8zM597.52 315.56h3.8v2h-3.8zM603.93 298.7h3.8v2h-3.8zM603.93 315.79h3.8v2h-3.8zM610.34 298.08h3.8v2h-3.8zM610.34 315.95h3.8v2h-3.8zM616.75 298.15h3.8v2h-3.8zM616.75 315.4h3.8v2h-3.8zM623.16 298.08h3.8v2h-3.8zM623.16 315.95h3.8v2h-3.8zM629.57 298.46h3.8v2h-3.8zM629.57 315.56h3.8v2h-3.8zM635.98 297.84h3.8v2h-3.8zM635.98 315.71h3.8v2h-3.8zM642.39 298.7h3.8v2h-3.8zM642.39 315.79h3.8v2h-3.8zM648.8 297.84h3.8v2h-3.8zM648.8 315.71h3.8v2h-3.8zM655.21 298.15h3.8v2h-3.8zM655.21 315.71h3.8v2h-3.8zM661.62 298.08h3.8v2h-3.8zM661.62 315.95h3.8v2h-3.8zM668.03 298.15h3.8v2h-3.8zM668.03 315.71h3.8v2h-3.8zM674.44 297.84h3.8v2h-3.8zM674.44 315.71h3.8v2h-3.8z" fill="#e4300e"/>
<polyline points="522.5,325.03 528.91,323.86 535.32,316.64 541.73,313.53 548.14,310.5 554.55,308.94 560.96,307.16 567.37,308.32 573.78,308.4 580.19,310.57 586.6,308.94 593.01,308.63 599.42,307.62 605.83,308.24 612.24,308.01 618.65,307.78 625.06,308.01 631.47,308.01 637.88,307.78 644.29,308.24 650.7,307.78 657.11,307.93 663.52,308.01 669.93,307.93 676.34,307.78" fill="none" stroke="#e4300e" stroke-width="2" stroke-linejoin="round"/>
<text transform="translate(11.6 125.6) rotate(-90)" class="T">PaO<tspan dx="2.5" dy="3.5" font-size="12.5">2</tspan><tspan dy="-3.5">, mmHg</tspan></text>
<text transform="translate(240 130.4) rotate(-90)" class="T">PaCO<tspan dx="2" dy="3" font-size="12.5">2</tspan><tspan dy="-3"> , mmHg</tspan></text>
<text transform="translate(463.8 135.6) rotate(-90)" class="T">End Expiratory Lung</text>
<text transform="translate(480.2 108.9) rotate(-90)" class="T">Volume, ml</text>
<text transform="translate(9.6 287) rotate(-90)" class="T">FiO<tspan dy="3" font-size="12.5">2</tspan></text>
<text transform="translate(240.1 311) rotate(-90)" class="T">PF ratio, mmHg</text>
<text transform="translate(470.3 317.6) rotate(-90)" class="T">P<tspan dx="-1.8" dy="3.2" font-size="12.8">peak</tspan><tspan dx="0.7" dy="-1">, cmH</tspan><tspan dx="0.8" dy="2.5" font-size="11.2">2</tspan><tspan dy="-2.5">O</tspan></text>
<text x="92.1" y="395.6" class="T">Time, hrs</text>
<text x="331.5" y="395.6" class="T">Time, hrs</text>
<text x="579.8" y="395.6" class="T">Time, hrs</text>
<path d="M599 4.6H632" stroke="#1068f2" stroke-width="3"/>
<path d="M599 21.5H632" stroke="#e4300e" stroke-width="3"/>
<text x="635.0" y="9.1" class="G">LTV</text>
<text x="635.0" y="26.0" class="G">APRV</text>
</svg>
</body></html>
